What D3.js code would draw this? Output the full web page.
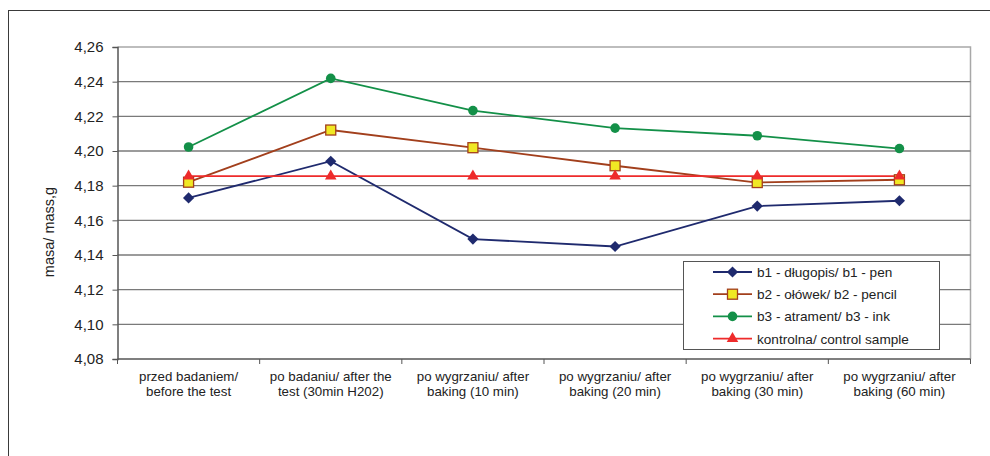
<!DOCTYPE html>
<html>
<head>
<meta charset="utf-8">
<script src="https://cdn.jsdelivr.net/npm/d3@7"></script>
<style>
  html, body { margin: 0; padding: 0; background: #fff; }
  svg { display: block; font-family: "Liberation Sans", Arial, sans-serif; }
</style>
</head>
<body>
<svg id="chart" width="990" height="456"></svg>
<script>
// Stages of the test (x categories), two-line labels
const categories = [
  ["przed badaniem/", "before the test"],
  ["po badaniu/ after the", "test (30min H202)"],
  ["po wygrzaniu/ after", "baking (10 min)"],
  ["po wygrzaniu/ after", "baking (20 min)"],
  ["po wygrzaniu/ after", "baking (30 min)"],
  ["po wygrzaniu/ after", "baking (60 min)"]
];

// Sample mass in grams at each stage
const b1Pen     = [4.1729, 4.1941, 4.1492, 4.1449, 4.1682, 4.1713];
const b2Pencil  = [4.1820, 4.2121, 4.2019, 4.1915, 4.1818, 4.1834];
const b3Ink     = [4.2023, 4.2419, 4.2233, 4.2132, 4.2088, 4.2014];
const control   = [4.1855, 4.1855, 4.1855, 4.1855, 4.1855, 4.1855];

const seriesNames = [
  "b1 - długopis/ b1 - pen",
  "b2 - ołówek/ b2 - pencil",
  "b3 - atrament/ b3 - ink",
  "kontrolna/ control sample"
];

const yTicks = [4.08, 4.10, 4.12, 4.14, 4.16, 4.18, 4.20, 4.22, 4.24, 4.26];
const yTitle = "masa/ mass,g";

const series = [
  { name: seriesNames[0], values: b1Pen,    color: "#1f2a6e", marker: "diamond" },
  { name: seriesNames[1], values: b2Pencil, color: "#a23f1c", marker: "square", fill: "#f0e824" },
  { name: seriesNames[2], values: b3Ink,    color: "#139048", marker: "circle" },
  { name: seriesNames[3], values: control,  color: "#ee2b2b", marker: "triangle" }
];

const svg = d3.select("#chart");
const plot = { left: 117.5, right: 970.5, top: 47, bottom: 359 };

// Outer chart frame (runs past the right and bottom edges)
svg.append("rect")
  .attr("x", 8.5).attr("y", 10.5)
  .attr("width", 1000).attr("height", 500)
  .attr("fill", "none").attr("stroke", "#3a3a3a").attr("stroke-width", 1);

const x = d3.scaleBand()
  .domain(d3.range(categories.length))
  .range([plot.left, plot.right]);

const y = d3.scaleLinear()
  .domain([yTicks[0], yTicks[yTicks.length - 1]])
  .range([plot.bottom, plot.top]);

const cx = i => x(i) + x.bandwidth() / 2;

// Plot area border
svg.append("path")
  .attr("d", `M${plot.left},${plot.top}H${plot.right}V${plot.bottom}`)
  .attr("fill", "none").attr("stroke", "#a8a8a8").attr("stroke-width", 1.5);

// Horizontal grid lines
svg.append("g")
  .selectAll("line")
  .data(yTicks.slice(1, -1))
  .join("line")
  .attr("x1", plot.left).attr("x2", plot.right)
  .attr("y1", d => y(d)).attr("y2", d => y(d))
  .attr("stroke", "#7a7a7a").attr("stroke-width", 1.3);

// Y axis
const yAxis = svg.append("g")
  .attr("transform", `translate(${plot.left},0)`)
  .call(d3.axisLeft(y).tickValues(yTicks)
    .tickFormat(d => d3.format(".2f")(d).replace(".", ","))
    .tickSize(5).tickPadding(9));
yAxis.select(".domain").attr("stroke", "#555").attr("stroke-width", 1.5);
yAxis.selectAll(".tick line").attr("stroke", "#555");
yAxis.selectAll("text")
  .attr("font-size", 15).attr("fill", "#222")
  .attr("font-family", "Liberation Sans, Arial, sans-serif");

// X axis with ticks between categories
const xAxis = svg.append("g")
  .attr("transform", `translate(0,${plot.bottom})`);
xAxis.append("line")
  .attr("x1", plot.left).attr("x2", plot.right)
  .attr("stroke", "#555").attr("stroke-width", 1.5);
xAxis.selectAll("line.tk")
  .data(d3.range(categories.length + 1))
  .join("line").attr("class", "tk")
  .attr("x1", i => i < categories.length ? x(i) : plot.right)
  .attr("x2", i => i < categories.length ? x(i) : plot.right)
  .attr("y1", 0).attr("y2", 5)
  .attr("stroke", "#555");
const xl = xAxis.selectAll("text")
  .data(categories)
  .join("text")
  .attr("text-anchor", "middle")
  .attr("font-size", 13.3).attr("fill", "#222");
xl.each(function(d, i) {
  const t = d3.select(this);
  d.forEach((line, k) => {
    t.append("tspan").attr("x", cx(i)).attr("y", 22 + k * 15).text(line);
  });
});

// Y axis title
svg.append("text")
  .attr("transform", `translate(54,232) rotate(-90)`)
  .attr("text-anchor", "middle")
  .attr("font-size", 14.5).attr("fill", "#222")
  .text(yTitle);

// Marker drawing
function drawMarker(g, s, px, py) {
  if (s.marker === "diamond") {
    const h = 5.6;
    g.append("path")
      .attr("d", `M${px},${py - h}L${px + h},${py}L${px},${py + h}L${px - h},${py}Z`)
      .attr("fill", s.color);
  } else if (s.marker === "square") {
    const h = 5;
    g.append("rect")
      .attr("x", px - h).attr("y", py - h)
      .attr("width", 2 * h).attr("height", 2 * h)
      .attr("fill", s.fill).attr("stroke", s.color).attr("stroke-width", 1.3);
  } else if (s.marker === "circle") {
    g.append("circle")
      .attr("cx", px).attr("cy", py).attr("r", 4.8)
      .attr("fill", s.color);
  } else if (s.marker === "triangle") {
    g.append("path")
      .attr("d", d3.symbol(d3.symbolTriangle, 58)())
      .attr("transform", `translate(${px},${py})`)
      .attr("fill", s.color);
  }
}

// Lines and markers
const line = d3.line().x((d, i) => cx(i)).y(d => y(d));
series.forEach(s => {
  svg.append("path")
    .datum(s.values)
    .attr("d", line)
    .attr("fill", "none")
    .attr("stroke", s.color)
    .attr("stroke-width", 1.8);
});
series.forEach(s => {
  const g = svg.append("g");
  s.values.forEach((v, i) => drawMarker(g, s, cx(i), y(v)));
});

// Legend
const lg = svg.append("g");
lg.append("rect")
  .attr("x", 683.5).attr("y", 261.5)
  .attr("width", 256).attr("height", 88)
  .attr("fill", "#fff").attr("stroke", "#555").attr("stroke-width", 1);
series.forEach((s, k) => {
  const ly = 272 + k * 22.2;
  lg.append("line")
    .attr("x1", 713).attr("x2", 752)
    .attr("y1", ly).attr("y2", ly)
    .attr("stroke", s.color).attr("stroke-width", 1.8);
  drawMarker(lg, s, 732.5, ly);
  lg.append("text")
    .attr("x", 757).attr("y", ly + 5)
    .attr("font-size", 13.6).attr("fill", "#222")
    .text(s.name);
});
</script>
</body>
</html>
